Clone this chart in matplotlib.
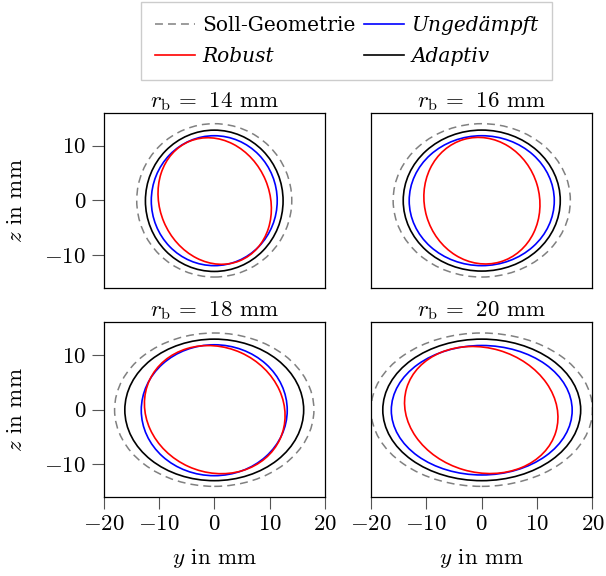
import numpy as np
import matplotlib
matplotlib.use("Agg")
import matplotlib.pyplot as plt
from matplotlib.patches import Ellipse
from matplotlib.lines import Line2D

plt.rcParams['mathtext.fontset'] = 'cm'
plt.rcParams['font.family'] = 'serif'
plt.rcParams['font.serif'] = ['cmr10', 'DejaVu Serif']
plt.rcParams['axes.formatter.use_mathtext'] = True

# ---------------- data ----------------
radii_b = [14, 16, 18, 20]           # r_b in mm (Soll: semi-axes r_b x 14)
soll_height = 14.0

# Adaptiv (black): semi-axes
adaptiv_a = [12.43, 14.18, 16.15, 17.87]
adaptiv_b = [12.9, 12.87, 12.92, 12.92]
adaptiv_cz = [-0.08, -0.04, -0.04, -0.04]

# Ungedämpft (blue)
unged_a = [11.37, 13.10, 13.18, 16.33]
unged_b = [11.86, 11.86, 11.95, 11.82]
unged_cz = [-0.06, -0.06, -0.1, -0.1]

# Robust (red): tilted ellipse (centre, semi-axes, tilt in deg)
robust_cy = [0.08, 0.03, 0.09, -0.09]
robust_cz = [-0.12, -0.06, 0.01, -0.06]
robust_a = [9.94, 10.38, 12.95, 14.05]
robust_b = [11.81, 11.65, 11.42, 11.36]
robust_tilt = [22.5, 16.2, -24.5, -16.5]

x_ticks = [-20, -10, 0, 10, 20]
y_ticks = [-10, 0, 10]
legend_labels = ['Soll-Geometrie', 'Robust', 'Ungedämpft', 'Adaptiv']

fig = plt.figure(figsize=(6.06, 5.76), dpi=100)
W = 0.3655
H = 0.3043
positions = [(0.1708, 0.5), (0.6122, 0.5), (0.1708, 0.1366), (0.6122, 0.1366)]
lw = 1.2
fs = 16.5
dash = (0, (5.2, 3.3))

for i, rb in enumerate(radii_b):
    ax = fig.add_axes([positions[i][0], positions[i][1], W, H])
    ax.set_xlim(-20, 20)
    ax.set_ylim(-16, 16)
    ax.add_patch(Ellipse((0, 0), 2 * rb, 2 * soll_height, fill=False, ec='#808080',
                         lw=1.1, ls=dash))
    ax.add_patch(Ellipse((0, unged_cz[i]), 2 * unged_a[i], 2 * unged_b[i], fill=False,
                         ec='#0000ff', lw=lw))
    ax.add_patch(Ellipse((robust_cy[i], robust_cz[i]), 2 * robust_a[i], 2 * robust_b[i],
                         angle=robust_tilt[i], fill=False, ec='#ff0000', lw=lw))
    ax.add_patch(Ellipse((0, adaptiv_cz[i]), 2 * adaptiv_a[i], 2 * adaptiv_b[i], fill=False,
                         ec='black', lw=lw))
    ax.set_title(r'$r_\mathrm{b}\,=\;\,%d$ mm' % rb, fontsize=fs, pad=3)
    for s in ax.spines.values():
        s.set_linewidth(0.9)
    ax.tick_params(direction='out', length=8.5, width=0.8, color='#555555',
                   labelsize=fs, pad=4, top=False, right=False)
    if i % 2 == 0:
        ax.set_yticks(y_ticks)
        ax.set_ylabel(r'$z$ in mm', fontsize=fs)
        ax.yaxis.set_label_coords(-0.35, 0.5)
    else:
        ax.set_yticks([])
    if i >= 2:
        ax.set_xticks(x_ticks)
        ax.set_xlabel(r'$y$ in mm', fontsize=fs, labelpad=9)
    else:
        ax.set_xticks([])

handles = [
    Line2D([], [], color='#808080', lw=1.1, ls=dash),
    Line2D([], [], color='#ff0000', lw=lw),
    Line2D([], [], color='#0000ff', lw=lw),
    Line2D([], [], color='black', lw=lw),
]
leg = fig.legend(handles, legend_labels, loc='upper center', bbox_to_anchor=(0.572, 0.997),
                 borderaxespad=0.0,
                 ncol=2, frameon=True, fancybox=False, edgecolor='#cccccc', framealpha=1,
                 columnspacing=0.4, handletextpad=0.35, handlelength=2.0, borderpad=0.7,
                 labelspacing=0.6, prop={'family': 'DejaVu Serif', 'size': 14.5})
leg.get_frame().set_linewidth(1.0)
texts = leg.get_texts()
for t in texts[1:]:
    t.set_fontstyle('italic')

fig.savefig('out.png', dpi=100)
